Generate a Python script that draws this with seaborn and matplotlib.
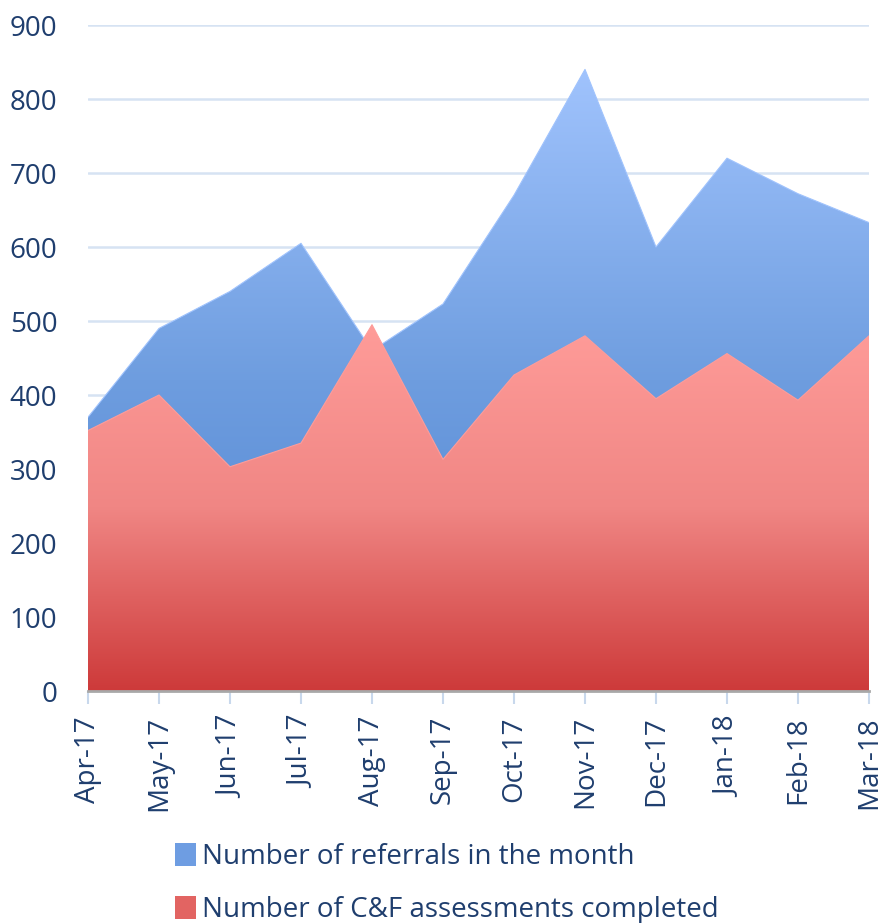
import numpy as np
import pandas as pd
import matplotlib
matplotlib.use("Agg")
import matplotlib.pyplot as plt
from matplotlib.colors import LinearSegmentedColormap
from matplotlib.patches import Patch
import seaborn as sns

# Data
months = ["Apr-17", "May-17", "Jun-17", "Jul-17", "Aug-17", "Sep-17",
          "Oct-17", "Nov-17", "Dec-17", "Jan-18", "Feb-18", "Mar-18"]
referrals = [370, 490, 540, 605, 460, 523, 670, 840, 600, 720, 672, 633]
assessments = [352, 400, 303, 335, 495, 313, 427, 480, 395, 456, 393, 480]

ref_label = "Number of referrals in the month"
ass_label = "Number of C&F assessments completed"

df = pd.DataFrame({
    "x": np.arange(len(months)),
    "Month": months,
    "Referrals": referrals,
    "Assessments": assessments,
})

TEXT = "#1f3e6e"
blue_stops = ["#4d82d0", "#6e9ddf", "#a0c3fd"]
red_stops = ["#cd3a3a", "#f08684", "#ff9c99"]


def gradient_area(ax, x, y, stops, zorder):
    # fill_between gives the polygon, a vertical gradient image is clipped to it
    poly = ax.fill_between(x, 0, y, facecolor="none", lw=0, zorder=zorder)
    cmap = LinearSegmentedColormap.from_list("g", stops)
    grad = np.linspace(0, 1, 256).reshape(-1, 1)
    img = ax.imshow(grad, cmap=cmap, origin="lower", aspect="auto",
                    extent=[x.min(), x.max(), 0, max(y)], zorder=zorder,
                    interpolation="bilinear")
    img.set_clip_path(poly.get_paths()[0], transform=ax.transData)


sns.set_theme(style="white")
plt.rcParams["font.family"] = ["Open Sans", "DejaVu Sans"]

fig = plt.figure(figsize=(8.83, 9.23), dpi=100)
ax = fig.add_axes([88 / 883, 1 - 691 / 923, (869 - 88) / 883, (691 - 25) / 923])

gradient_area(ax, df["x"].values, df["Referrals"].values, blue_stops, 2)
gradient_area(ax, df["x"].values, df["Assessments"].values, red_stops, 3)

# thin outlines along the tops of the areas
sns.lineplot(data=df, x="x", y="Referrals", ax=ax, color="#a0c3fd", lw=0.8, zorder=2.5)
sns.lineplot(data=df, x="x", y="Assessments", ax=ax, color="#ff9c99", lw=0.8, zorder=3.5)

ax.set_xlim(0, len(months) - 1)
ax.set_ylim(0, 900)
ax.set_yticks(range(0, 901, 100))
ax.set_xticks(df["x"])
ax.set_xticklabels(months, rotation=90)
ax.set_xlabel("")
ax.set_ylabel("")

ax.yaxis.grid(True, color="#d6e3f3", lw=1.8, zorder=0)
ax.set_axisbelow(True)
for side in ["left", "right", "top"]:
    ax.spines[side].set_visible(False)
ax.spines["bottom"].set_color("#a8a8a8")
ax.spines["bottom"].set_linewidth(2)
ax.spines["bottom"].set_zorder(5)

ax.tick_params(axis="x", bottom=True, length=9, width=1.5, color="#c8d8ec",
               labelsize=20, labelcolor=TEXT, pad=9)
ax.tick_params(axis="y", left=False, length=0, labelsize=20, labelcolor=TEXT, pad=22)

handles = [Patch(facecolor="#6e9de2", edgecolor="none"),
           Patch(facecolor="#e26462", edgecolor="none")]
fig.legend(handles, [ref_label, ass_label], loc="upper left",
           bbox_to_anchor=(164 / 883, 1 - 832 / 923), frameon=False,
           fontsize=20, labelcolor=TEXT, handlelength=0.75, handleheight=0.85,
           handletextpad=0.2, labelspacing=0.9, borderaxespad=0)

fig.savefig("out.png", dpi=100)
